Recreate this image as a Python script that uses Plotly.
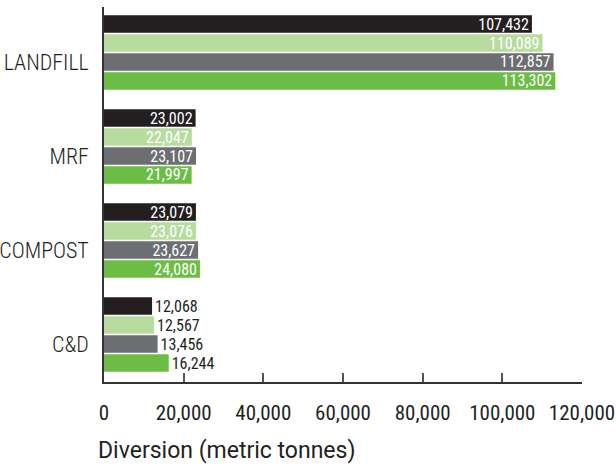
import plotly.graph_objects as go

# Diversion by facility type, four series per category
categories = ["LANDFILL", "MRF", "COMPOST", "C&D"]
series_names = ["Series A", "Series B", "Series C", "Series D"]
series_values = [
    [107432, 23002, 23079, 12068],
    [110089, 22047, 23076, 12567],
    [112857, 23107, 23627, 13456],
    [113302, 21997, 24080, 16244],
]
series_colors = ["#231f20", "#b8dca0", "#6d6e71", "#6cbd45"]
tick_values = [0, 20000, 40000, 60000, 80000, 100000, 120000]
tick_labels = ["0", "20,000", "40,000", "60,000", "80,000", "100,000", "120,000"]
x_title = "Diversion (metric tonnes)"

COND = "Roboto Condensed, Liberation Sans Narrow, sans-serif"
INK = "#231f20"

# Bar geometry in category units: each bar is a thin slot, the
# category label sits on the third bar of its group
BAR_H = 0.186
BAR_STEP = 0.202
LABEL_SLOT = 2

# Small bars carry their value outside the bar in dark text
outside_cats = {"C&D"}
positions = ["outside" if c in outside_cats else "inside" for c in categories]
text_colors = [INK if c in outside_cats else "white" for c in categories]

fig = go.Figure()
for i, (name, vals, color) in enumerate(zip(series_names, series_values, series_colors)):
    center = (i - LABEL_SLOT) * BAR_STEP
    fig.add_trace(go.Bar(
        y=categories,
        x=vals,
        name=name,
        orientation="h",
        width=BAR_H,
        offset=center - BAR_H / 2,
        marker=dict(color=color, line=dict(width=0)),
        texttemplate="%{x:,}",
        textposition=positions,
        insidetextanchor="end",
        textfont=dict(family=COND, size=16, weight=400, color=text_colors),
        cliponaxis=False,
    ))

fig.update_layout(
    width=616,
    height=466,
    margin=dict(l=104, r=34, t=7, b=84),
    paper_bgcolor="white",
    plot_bgcolor="white",
    barmode="overlay",
    showlegend=False,
    uniformtext=dict(minsize=16, mode="show"),
    xaxis=dict(
        range=[0, 120000],
        tickvals=tick_values,
        ticktext=tick_labels,
        ticks="inside",
        ticklen=9,
        tickwidth=1.5,
        tickcolor="#555555",
        showline=True,
        linecolor="#333333",
        linewidth=1.5,
        showgrid=False,
        zeroline=False,
        tickfont=dict(family=COND, size=21, weight=400, color=INK),
        ticklabelstandoff=11,
        ticklabeloverflow="allow",
        automargin=False,
    ),
    yaxis=dict(
        range=[3.404, -0.585],
        showline=True,
        linecolor="#333333",
        linewidth=1.5,
        showgrid=False,
        ticks="",
        tickfont=dict(family=COND, size=22, weight=300, color=INK),
        ticklabelstandoff=9,
        automargin=False,
    ),
    annotations=[dict(
        text=x_title,
        xref="paper", yref="paper",
        x=-8 / 478, y=-68 / 375,
        xanchor="left", yanchor="middle",
        showarrow=False,
        font=dict(family="Roboto, sans-serif", size=23, color=INK),
    )],
)

fig.write_html("out.html")
